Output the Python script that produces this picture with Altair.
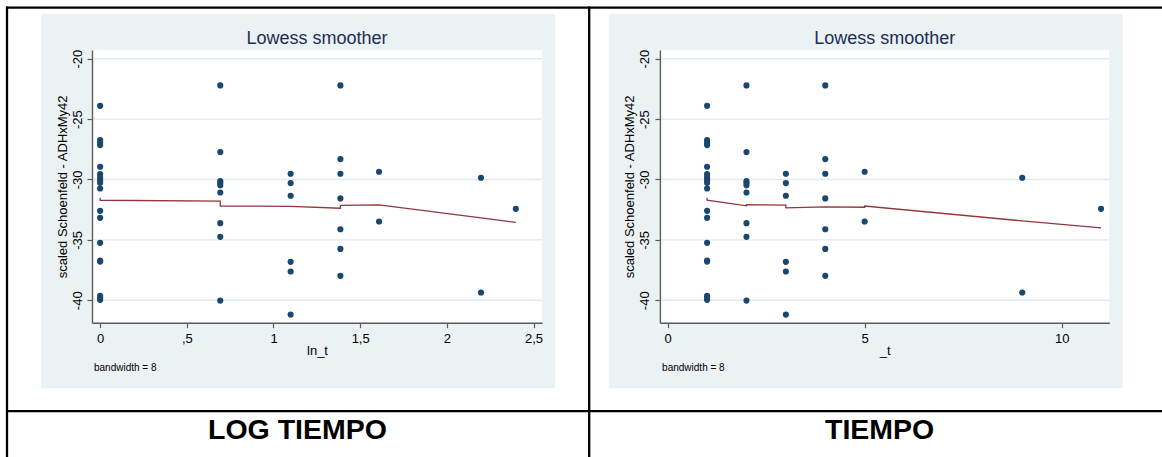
import altair as alt
import pandas as pd

# ---------------- data ----------------
t_values = [1, 2, 3, 4, 5, 9, 11]
ln_t_values = [0.0, 0.693, 1.099, 1.386, 1.609, 2.197, 2.398]
resid_t1 = [-23.9, -26.74, -26.93, -27.15, -28.95, -29.56, -29.83, -30.06, -30.28,
            -30.75, -32.6, -33.18, -35.25, -36.71, -36.8, -39.64, -39.81, -39.97]
resid_t2 = [-22.21, -27.73, -30.14, -30.28, -30.47, -31.08, -33.62, -34.75, -40.03]
resid_t3 = [-29.53, -30.30, -31.35, -36.82, -37.62, -41.19]
resid_t4 = [-22.21, -28.31, -29.53, -31.57, -34.12, -35.75, -37.98]
resid_t5 = [-29.36, -33.48]
resid_t9 = [-29.86, -39.36]
resid_t11 = [-32.43]
resid_groups = [resid_t1, resid_t2, resid_t3, resid_t4, resid_t5, resid_t9, resid_t11]

lowess_ln_x = [0.0, 0.0, 0.693, 0.693, 1.099, 1.386, 1.386, 1.609, 2.197, 2.398]
lowess_ln_y = [-31.52, -31.72, -31.80, -32.20, -32.22, -32.38, -32.15, -32.10, -33.18, -33.56]
lowess_t_x = [1, 1, 2, 2, 3, 3, 4, 5, 5, 9, 11]
lowess_t_y = [-31.52, -31.72, -32.18, -32.08, -32.12, -32.35, -32.27, -32.30, -32.20, -33.43, -34.00]

ln_ticks = [0, 0.5, 1, 1.5, 2, 2.5]
ln_labels = ["0", ",5", "1", "1,5", "2", "2,5"]
t_ticks = [0, 5, 10]
t_labels = ["0", "5", "10"]
y_ticks = [-20, -25, -30, -35, -40]
y_labels = ["-20", "-25", "-30", "-35", "-40"]

panel_title = "Lowess smoother"
y_title = "scaled Schoenfeld - ADHxMy42"
note_text = "bandwidth = 8"
captions = ["LOG TIEMPO", "TIEMPO"]
x_titles = ["ln_t", "_t"]

# ---------------- tables ----------------
rows = []
for t, lt, ys in zip(t_values, ln_t_values, resid_groups):
    for v in ys:
        rows.append({"t": t, "ln_t": lt, "r": v})
pts = pd.DataFrame(rows)

FONT = "Liberation Sans"
NAVY = "#1a476f"
MAROON = "#90353b"
BG = "#eaf2f3"
AXC = "#5c5c5c"

Y_DOMAIN = [-41.86, -19.28]
Y_RANGE = [322.7, 50]
H = 457
W = 1162


def lab_expr(ticks, labels):
    parts = "".join(f"abs(datum.value - ({v})) < 1e-6 ? '{l}' : " for v, l in zip(ticks, labels))
    return parts + "''"


def panel(xfield, xdomain, xrange, ticks, labels, xtitle, line_x, line_y):
    xscale = alt.Scale(domain=xdomain, range=xrange, nice=False, zero=False)
    yscale = alt.Scale(domain=Y_DOMAIN, range=Y_RANGE, nice=False, zero=False)
    xaxis = alt.Axis(values=ticks, labelExpr=lab_expr(ticks, labels), title=xtitle,
                     orient="bottom", offset=Y_RANGE[0] - H, grid=False, zindex=1,
                     tickSize=5, tickColor=AXC, tickWidth=1.2, domainColor=AXC, domainWidth=1.4,
                     labelFont=FONT, labelFontSize=13, labelColor="#000000", labelPadding=4.5,
                     labelFlush=False, labelOverlap=False,
                     titleFont=FONT, titleFontSize=13, titleFontWeight="normal", titleColor="#000000",
                     titleBaseline="top", titleY=21.5)
    yaxis = alt.Axis(values=y_ticks, labelExpr=lab_expr(y_ticks, y_labels), title=y_title,
                     orient="left", offset=-xrange[0], grid=False, zindex=1,
                     tickSize=5, tickColor=AXC, tickWidth=1.2, domainColor=AXC, domainWidth=1.4,
                     labelFont=FONT, labelFontSize=13, labelColor="#000000", labelPadding=3,
                     labelAngle=270, labelAlign="center", labelBaseline="bottom",
                     labelFlush=False, labelOverlap=False,
                     titleFont=FONT, titleFontSize=13, titleFontWeight="normal", titleColor="#000000",
                     titleAngle=270, titleAlign="center", titleBaseline="middle",
                     titleX=-30, titleY=(Y_RANGE[0] + Y_RANGE[1]) / 2)

    area_df = pd.DataFrame({"x": [xdomain[0]], "x2": [xdomain[1]], "y": [Y_DOMAIN[0]], "y2": [Y_DOMAIN[1]]})
    area = alt.Chart(area_df).mark_rect(color="white").encode(
        x=alt.X("x:Q", scale=xscale, axis=xaxis), x2="x2:Q",
        y=alt.Y("y:Q", scale=yscale, axis=yaxis), y2="y2:Q")

    grid_df = pd.DataFrame({"x": [xdomain[0]] * len(y_ticks), "x2": [xdomain[1]] * len(y_ticks), "y": y_ticks})
    grid = alt.Chart(grid_df).mark_rule(color="#e1eaee", strokeWidth=1.4).encode(
        x=alt.X("x:Q", scale=xscale, axis=xaxis), x2="x2:Q",
        y=alt.Y("y:Q", scale=yscale, axis=yaxis))

    dots = alt.Chart(pts).transform_calculate(x=f"datum['{xfield}']", y="datum.r").mark_circle(
        color=NAVY, opacity=1, size=38).encode(
        x=alt.X("x:Q", scale=xscale, axis=xaxis),
        y=alt.Y("y:Q", scale=yscale, axis=yaxis))

    line_df = pd.DataFrame({"x": line_x, "y": line_y, "i": list(range(len(line_x)))})
    line = alt.Chart(line_df).mark_line(color=MAROON, strokeWidth=1.3).encode(
        x=alt.X("x:Q", scale=xscale, axis=xaxis),
        y=alt.Y("y:Q", scale=yscale, axis=yaxis),
        order="i:Q")

    return alt.layer(area, grid, dots, line)


one = alt.Data(values=[{}])


def rule(x, x2, y, y2, w, color="black"):
    return alt.Chart(one).mark_rule(color=color, strokeWidth=w).encode(
        x=alt.value(x), x2=alt.value(x2), y=alt.value(y), y2=alt.value(y2))


def bgrect(x, x2, y, y2):
    return alt.Chart(one).mark_rect(color=BG).encode(
        x=alt.value(x), x2=alt.value(x2), y=alt.value(y), y2=alt.value(y2))


def text(s, x, y, size, align="center", baseline="alphabetic", weight="normal", color="#000000"):
    return alt.Chart(one).mark_text(font=FONT, fontSize=size, align=align, baseline=baseline,
                                    fontWeight=weight, color=color).encode(
        x=alt.value(x), y=alt.value(y), text=alt.value(s))


decor = [
    rule(6, W, 7.7, 7.7, 2.3),
    rule(6, W, 411.2, 411.2, 2.3),
    rule(7, 7, 6.5, H, 2.3),
    rule(589.2, 589.2, 6.5, H, 2.3),
    bgrect(41, 555, 14, 388.3),
    bgrect(608.8, 1122.7, 14, 388.3),
]

texts = [
    text(panel_title, 317, 44, 18, color="#1e2d55"),
    text(panel_title, 884.7, 44, 18, color="#1e2d55"),
    text(note_text, 94, 367.7, 10, align="left", baseline="middle"),
    text(note_text, 662.1, 367.7, 10, align="left", baseline="middle"),
    text(captions[0], 297.5, 439.3, 28.5, weight="bold"),
    text(captions[1], 879.6, 439.3, 28.5, weight="bold"),
]

p1 = panel("ln_t", [-0.047, 2.549], [92, 542], ln_ticks, ln_labels, x_titles[0], lowess_ln_x, lowess_ln_y)
p2 = panel("t", [-0.198, 11.21], [659.9, 1109.3], t_ticks, t_labels, x_titles[1], lowess_t_x, lowess_t_y)

chart = alt.layer(*decor, p1, p2, *texts).resolve_scale(
    x="independent", y="independent"
).properties(
    width=W, height=H, padding=0,
    autosize=alt.AutoSizeParams(type="none"),
    background="white",
).configure_view(stroke=None)

chart.save("out.html", embed_options={"renderer": "svg", "actions": False})
